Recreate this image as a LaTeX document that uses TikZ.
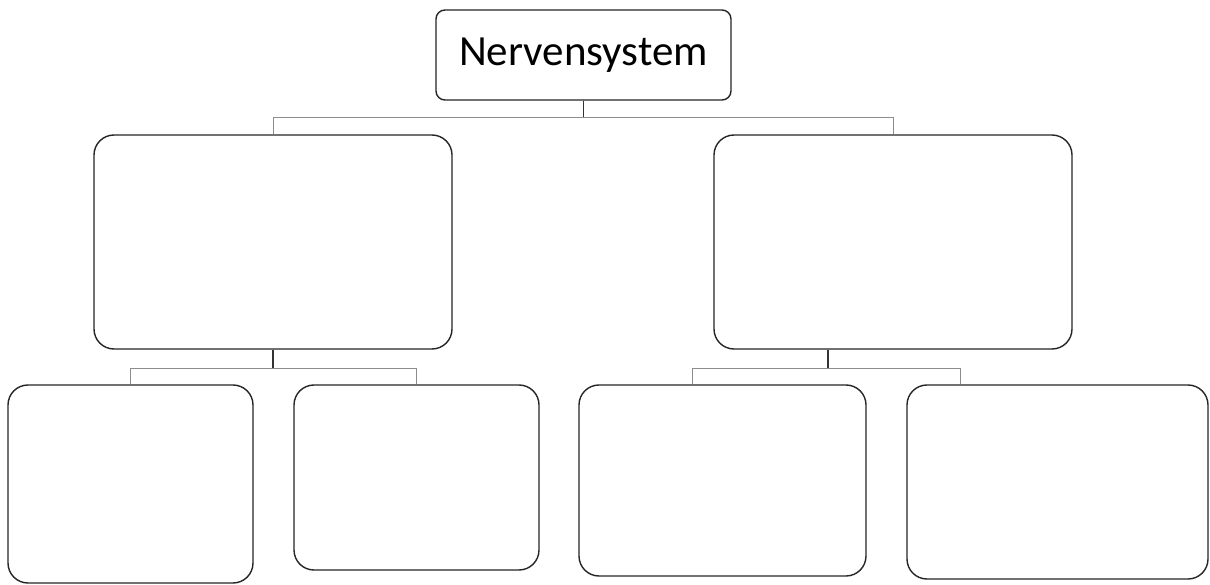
\documentclass[tikz,border=0pt]{standalone}
\usepackage{fontspec}
\setmainfont{Carlito}
\begin{document}
\begin{tikzpicture}[x=1pt,y=-1pt,
  box/.style={draw=black!85,line width=1.4pt,fill=white,rounded corners=#1,inner sep=0pt},
  box/.default=20pt,
  conn/.style={draw=black!45,line width=1pt},
  stem/.style={draw=black!80,line width=1.1pt}]
\useasboundingbox[fill=white] (0,0) rectangle (1210,585);
\node[box=9pt,minimum width=295pt,minimum height=90pt,font=\fontsize{43}{50}\selectfont] (top) at (583.5,55) {Nervensystem};
\node[box,minimum width=358pt,minimum height=214pt] (ml) at (273,242) {};
\node[box,minimum width=358pt,minimum height=214pt] (mr) at (893,242) {};
\node[box,minimum width=245pt,minimum height=198pt] (b1) at (130.5,484) {};
\node[box,minimum width=245pt,minimum height=185pt] (b2) at (416.5,477.5) {};
\node[box,minimum width=287pt,minimum height=191pt] (b3) at (722.5,480.5) {};
\node[box,minimum width=301pt,minimum height=194pt] (b4) at (1057.5,482) {};
% junctions
\coordinate (j0) at (583.5,118);
\coordinate (jl) at (273,368);
\coordinate (jr) at (828,368);
\draw[stem] (top.south) -- (j0);
\draw[conn] (j0) -| (ml.north);
\draw[conn] (j0) -| (mr.north);
\draw[stem] (ml.south) -- (jl);
\draw[conn] (jl) -| (b1.north);
\draw[conn] (jl) -| (b2.north);
\draw[stem] (mr.south -| jr) -- (jr);
\draw[conn] (jr) -| ([xshift=-30.5pt]b3.north);
\draw[conn] (jr) -| ([xshift=-97.5pt]b4.north);
\end{tikzpicture}
\end{document}
